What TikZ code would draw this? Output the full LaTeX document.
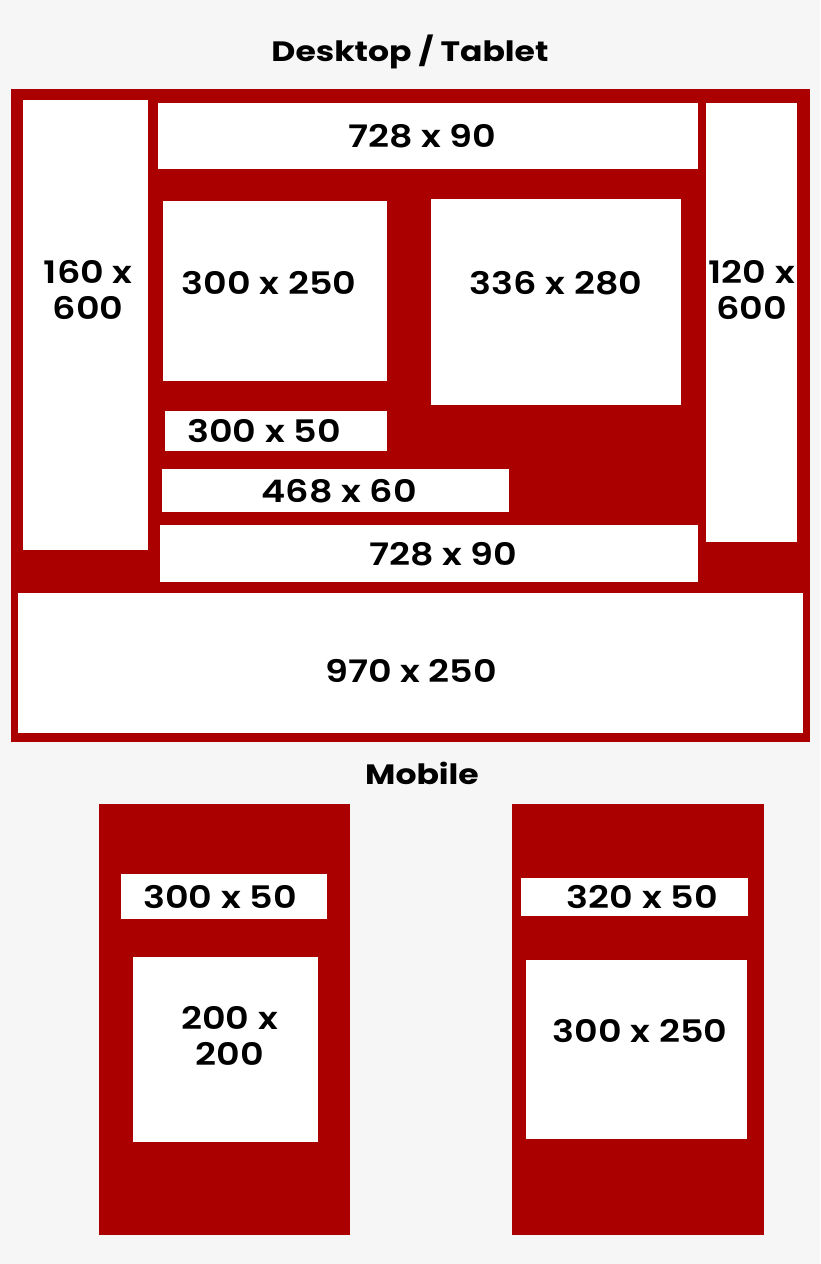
\documentclass[tikz,border=0pt]{standalone}
\usepackage{fontspec}
\setmainfont{Poppins}[FakeStretch=1.18, BoldFont={Poppins SemiBold}]
\newfontfamily\titlefont{Poppins Bold}[FakeStretch=1.18]
\definecolor{adred}{HTML}{AA0000}
\definecolor{pagebg}{HTML}{F6F6F6}
\tikzset{
  adbox/.style={fill=white, draw=none, inner sep=0pt, anchor=north west},
  adlabel/.style={font=\bfseries\fontsize{31}{36}\selectfont, align=center, inner sep=0pt},
  title/.style={font=\titlefont\fontsize{28}{30}\selectfont, inner sep=0pt}
}
\begin{document}
\begin{tikzpicture}[x=1pt,y=-1pt]
        \fill[pagebg] (0,0) rectangle (820,1264);
        \useasboundingbox (0,0) rectangle (820,1264);
        % desktop / tablet
        \node[title] (desk) at (410,52) {Desktop / Tablet};
        \node[fill=adred, anchor=north west, minimum width=799pt, minimum height=653pt, inner sep=0pt] (frame) at (11,89) {};
        \node[adbox, minimum width=125pt, minimum height=450pt] (sky) at (23,100) {};
        \node[adbox, minimum width=540pt, minimum height=66pt] (leadtop) at (158,103) {};
        \node[adbox, minimum width=224pt, minimum height=180pt] (rect) at (163,201) {};
        \node[adbox, minimum width=250pt, minimum height=206pt] (large) at (431,199) {};
        \node[adbox, minimum width=91pt, minimum height=439pt] (skyr) at (706,103) {};
        \node[adbox, minimum width=222pt, minimum height=40pt] (mob) at (165,411) {};
        \node[adbox, minimum width=347pt, minimum height=43pt] (banner) at (162,469) {};
        \node[adbox, minimum width=538pt, minimum height=57pt] (leadbot) at (160,525) {};
        \node[adbox, minimum width=785pt, minimum height=140pt] (bill) at (18,593) {};
        \node[adlabel] (sky-t) at ([shift={(2.5,-35)}]sky.center) {160 x\\600};
        \node[adlabel] (leadtop-t) at ([xshift=-6pt]leadtop.center) {728 x 90};
        \node[adlabel] (rect-t) at ([shift={(-6,-8)}]rect.center) {300 x 250};
        \node[adlabel] (large-t) at ([shift={(0,-19)}]large.center) {336 x 280};
        \node[adlabel] (skyr-t) at ([shift={(0,-33)}]skyr.center) {120 x\\600};
        \node[adlabel] (mob-t) at ([xshift=-12pt]mob.center) {300 x 50};
        \node[adlabel] (banner-t) at ([xshift=3.5pt]banner.center) {468 x 60};
        \node[adlabel] (leadbot-t) at ([xshift=14pt]leadbot.center) {728 x 90};
        \node[adlabel] (bill-t) at ([shift={(0.5,8)}]bill.center) {970 x 250};
        % mobile
        \node[title] (mobile) at (422,773) {Mobile};
        \node[fill=adred, anchor=north west, minimum width=251pt, minimum height=431pt, inner sep=0pt] (phonea) at (99,804) {};
        \node[fill=adred, anchor=north west, minimum width=252pt, minimum height=431pt, inner sep=0pt] (phoneb) at (512,804) {};
        \node[adbox, minimum width=206pt, minimum height=45pt] (mobA) at (121,874) {};
        \node[adbox, minimum width=185pt, minimum height=185pt] (sq) at (133,957) {};
        \node[adbox, minimum width=227pt, minimum height=38pt] (mobB) at (521,878) {};
        \node[adbox, minimum width=221pt, minimum height=179pt] (rectB) at (526,960) {};
        \node[adlabel] (mobA-t) at ([xshift=-4pt]mobA.center) {300 x 50};
        \node[adlabel] (sq-t) at ([shift={(4,-13.5)}]sq.center) {200 x\\200};
        \node[adlabel] (mobB-t) at ([xshift=7.5pt]mobB.center) {320 x 50};
        \node[adlabel] (rectB-t) at ([shift={(3.5,-18.5)}]rectB.center) {300 x 250};
\end{tikzpicture}
\end{document}
